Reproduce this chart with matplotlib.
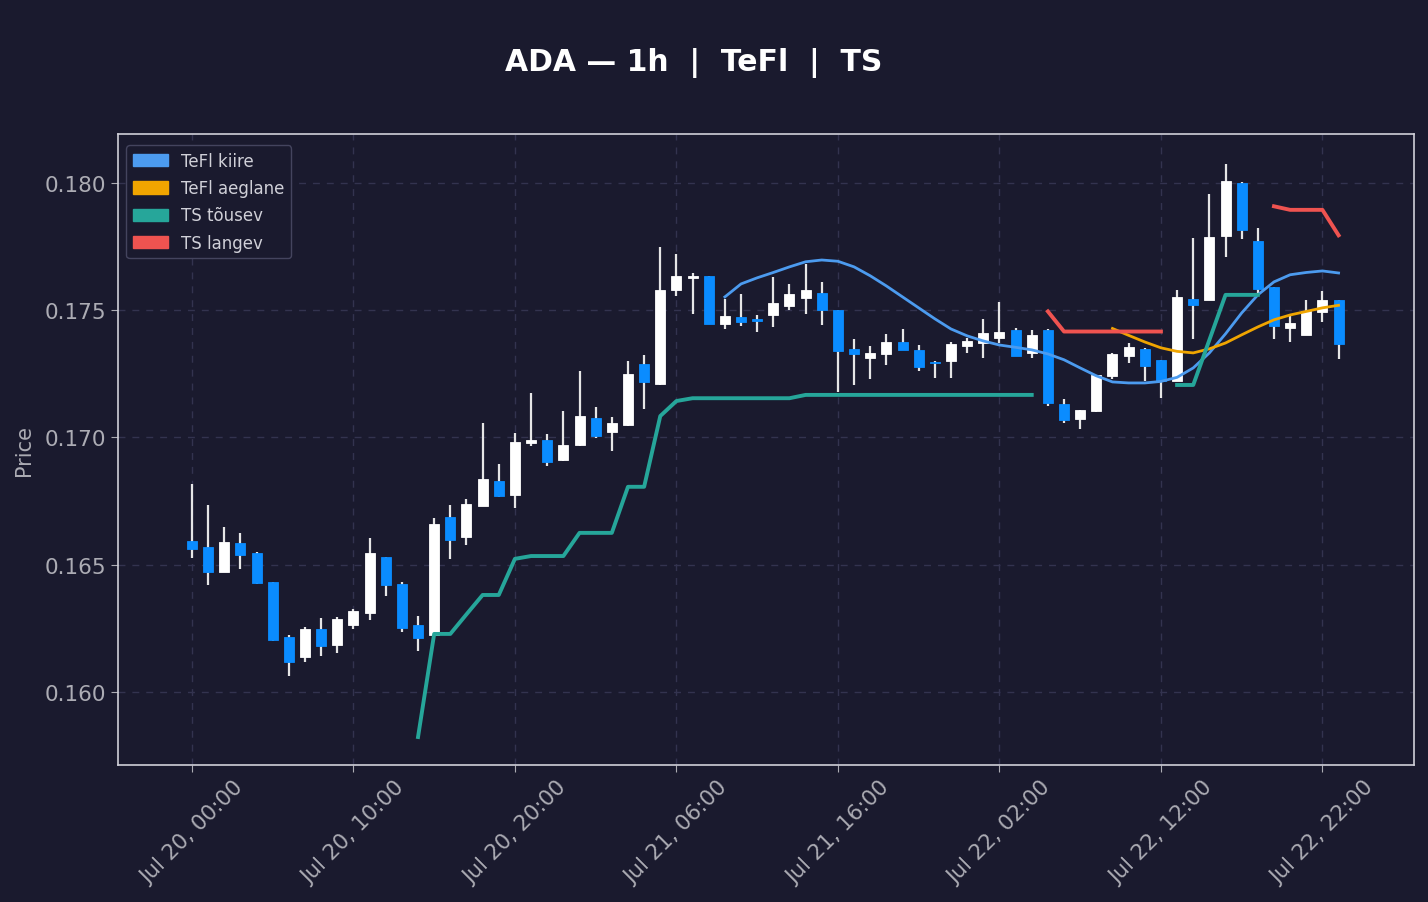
import numpy as np
import pandas as pd
import matplotlib
matplotlib.use("Agg")
import matplotlib.pyplot as plt
import matplotlib.dates as mdates
from matplotlib.patches import Patch

nan = np.nan

# hourly candles, Jul 20 00:00 -> Jul 22 23:00
times = pd.date_range("2025-07-20 00:00", periods=72, freq="h")

opens = [0.16593, 0.16569, 0.16473, 0.16585, 0.16546, 0.16432, 0.16215, 0.16139, 0.16246, 0.16183,
         0.16262, 0.16309, 0.16529, 0.16423, 0.16262, 0.16223, 0.16686, 0.16608, 0.16732, 0.16828,
         0.16775, 0.16977, 0.16989, 0.16910, 0.16972, 0.17075, 0.17020, 0.17048, 0.17288, 0.17209,
         0.17578, 0.17625, 0.17633, 0.17447, 0.17472, 0.17464, 0.17480, 0.17516, 0.17549, 0.17567,
         0.17500, 0.17347, 0.17311, 0.17327, 0.17375, 0.17344, 0.17298, 0.17299, 0.17361, 0.17369,
         0.17391, 0.17422, 0.17331, 0.17422, 0.17132, 0.17074, 0.17104, 0.17243, 0.17318, 0.17347,
         0.17305, 0.17223, 0.17543, 0.17539, 0.17791, 0.17999, 0.17771, 0.17590, 0.17431, 0.17404,
         0.17492, 0.17539]
highs = [0.16817, 0.16735, 0.16648, 0.16625, 0.16548, 0.16432, 0.16225, 0.16255, 0.16291, 0.16295,
         0.16326, 0.16605, 0.16532, 0.16432, 0.16299, 0.16684, 0.16734, 0.16758, 0.17057, 0.16896,
         0.17018, 0.17175, 0.17014, 0.17104, 0.17261, 0.17120, 0.17081, 0.17301, 0.17324, 0.17749,
         0.17721, 0.17646, 0.17635, 0.17544, 0.17564, 0.17480, 0.17631, 0.17603, 0.17682, 0.17611,
         0.17502, 0.17388, 0.17360, 0.17407, 0.17426, 0.17362, 0.17302, 0.17375, 0.17391, 0.17466,
         0.17532, 0.17430, 0.17422, 0.17424, 0.17151, 0.17107, 0.17244, 0.17332, 0.17371, 0.17352,
         0.17305, 0.17580, 0.17784, 0.17957, 0.18075, 0.18003, 0.17822, 0.17590, 0.17476, 0.17540,
         0.17576, 0.17539]
lows = [0.16527, 0.16422, 0.16470, 0.16484, 0.16425, 0.16202, 0.16064, 0.16119, 0.16143, 0.16154,
        0.16249, 0.16284, 0.16378, 0.16237, 0.16162, 0.16220, 0.16524, 0.16579, 0.16730, 0.16767,
        0.16724, 0.16968, 0.16889, 0.16908, 0.16968, 0.16997, 0.16948, 0.17046, 0.17113, 0.17207,
        0.17555, 0.17484, 0.17447, 0.17424, 0.17439, 0.17416, 0.17435, 0.17502, 0.17483, 0.17443,
        0.17180, 0.17207, 0.17231, 0.17286, 0.17345, 0.17259, 0.17234, 0.17234, 0.17332, 0.17312,
        0.17371, 0.17321, 0.17312, 0.17125, 0.17058, 0.17035, 0.17100, 0.17229, 0.17294, 0.17223,
        0.17156, 0.17223, 0.17387, 0.17539, 0.17710, 0.17781, 0.17561, 0.17387, 0.17376, 0.17404,
        0.17455, 0.17308]
closes = [0.16562, 0.16473, 0.16589, 0.16540, 0.16429, 0.16206, 0.16119, 0.16246, 0.16182, 0.16286,
          0.16317, 0.16545, 0.16419, 0.16253, 0.16211, 0.16659, 0.16598, 0.16737, 0.16836, 0.16771,
          0.16981, 0.16989, 0.16905, 0.16969, 0.17083, 0.17005, 0.17056, 0.17248, 0.17217, 0.17578,
          0.17633, 0.17633, 0.17447, 0.17476, 0.17453, 0.17456, 0.17527, 0.17563, 0.17578, 0.17500,
          0.17339, 0.17327, 0.17331, 0.17375, 0.17345, 0.17276, 0.17292, 0.17366, 0.17379, 0.17411,
          0.17415, 0.17321, 0.17403, 0.17134, 0.17070, 0.17107, 0.17244, 0.17327, 0.17356, 0.17282,
          0.17221, 0.17551, 0.17519, 0.17787, 0.18007, 0.17814, 0.17582, 0.17439, 0.17450, 0.17496,
          0.17539, 0.17366]

tefl_fast = [nan] * 33 + [
    0.17552, 0.17603, 0.17627, 0.17648, 0.17670, 0.17690, 0.17697, 0.17692, 0.17670, 0.17635,
    0.17595, 0.17552, 0.17509, 0.17466, 0.17426, 0.17399, 0.17379, 0.17363, 0.17354, 0.17344,
    0.17328, 0.17305, 0.17273, 0.17242, 0.17218, 0.17214, 0.17214, 0.17220, 0.17236, 0.17273,
    0.17332, 0.17407, 0.17489, 0.17560, 0.17611, 0.17639, 0.17648, 0.17654, 0.17646]
tefl_slow = [nan] * 57 + [
    0.17428, 0.17401, 0.17375, 0.17352, 0.17338, 0.17332, 0.17348, 0.17371, 0.17403, 0.17434,
    0.17462, 0.17481, 0.17495, 0.17509, 0.17519]
ts_up = [nan] * 14 + [
    0.15823, 0.16228, 0.16228, 0.16305, 0.16381, 0.16381, 0.16523, 0.16534, 0.16534, 0.16534,
    0.16625, 0.16625, 0.16625, 0.16806, 0.16806, 0.17084, 0.17143, 0.17154, 0.17154, 0.17154,
    0.17154, 0.17154, 0.17154, 0.17154, 0.17167, 0.17167, 0.17167, 0.17167, 0.17167, 0.17167,
    0.17167, 0.17167, 0.17167, 0.17167, 0.17167, 0.17167, 0.17167, 0.17167, 0.17167,
    nan, nan, nan, nan, nan, nan, nan, nan,
    0.17206, 0.17206, 0.17383, 0.17560, 0.17560, 0.17560,
    nan, nan, nan, nan, nan]
ts_down = [nan] * 53 + [
    0.17495, 0.17416, 0.17416, 0.17416, 0.17416, 0.17416, 0.17416, 0.17416,
    nan, nan, nan, nan, nan, nan,
    0.17908, 0.17894, 0.17894, 0.17894, 0.17794]

BG = "#1a1a2e"
UP = "#ffffff"
DOWN = "#0a8cff"
C_FAST = "#4c9bef"
C_SLOW = "#f0a500"
C_UP = "#26a69a"
C_DOWN = "#ef5350"
TXT = "#acacb4"

fig = plt.figure(figsize=(14.28, 9.03), dpi=100, facecolor=BG)
ax = fig.add_axes([0.0826, 0.1517, 0.9076, 0.6988], facecolor=BG)

x = mdates.date2num(times)
o = np.array(opens)
c = np.array(closes)
h = np.array(highs)
l = np.array(lows)
cols = [UP if cc >= oo else DOWN for oo, cc in zip(o, c)]
w = 0.62 / 24

ax.vlines(x, l, h, color="#e6e6e6", linewidth=1.6, zorder=2)
ax.bar(x, np.maximum(np.abs(c - o), 0.00003), bottom=np.minimum(o, c), width=w,
       color=cols, edgecolor=cols, linewidth=0.6, zorder=3)

ax.plot(x, tefl_fast, color=C_FAST, linewidth=2, zorder=4)
ax.plot(x, tefl_slow, color=C_SLOW, linewidth=2, zorder=4)
ax.plot(x, ts_up, color=C_UP, linewidth=2.8, zorder=4)
ax.plot(x, ts_down, color=C_DOWN, linewidth=2.8, zorder=4)

ax.set_xlim(x[0] - 4.58 / 24, x[0] + 75.67 / 24)
ax.set_ylim(0.15713, 0.18192)
ax.set_yticks([0.160, 0.165, 0.170, 0.175, 0.180])
ax.yaxis.set_major_formatter(plt.FormatStrFormatter("%.3f"))
ax.set_xticks(x[::10])
ax.xaxis.set_major_formatter(mdates.DateFormatter("%b %d, %H:%M"))
plt.setp(ax.get_xticklabels(), rotation=45, ha="center")

ax.grid(True, color="#33334f", linestyle=(0, (5, 5)), linewidth=1)
ax.set_axisbelow(True)
for s in ax.spines.values():
    s.set_color("#d0d0d8")
    s.set_linewidth(1.2)
ax.tick_params(colors=TXT, labelsize=15.5, length=5)
ax.set_ylabel("Price", color=TXT, fontsize=15)
ax.yaxis.set_label_coords(-0.065, 0.5)

fig.text(0.4857, 0.930, "ADA — 1h  |  TeFl  |  TS", color="white", fontsize=21.5,
         fontweight="bold", ha="center", va="center")

handles = [Patch(color=C_FAST, label="TeFl kiire"),
           Patch(color=C_SLOW, label="TeFl aeglane"),
           Patch(color=C_UP, label="TS tõusev"),
           Patch(color=C_DOWN, label="TS langev")]
leg = ax.legend(handles=handles, loc="upper left", fontsize=12, facecolor=BG,
                edgecolor="#44445e", labelcolor="#d0d0d8", framealpha=1, fancybox=True,
                labelspacing=0.55, handleheight=0.75, handlelength=2.1,
                bbox_to_anchor=(0.0, 0.995))

fig.savefig("out.png", dpi=100, facecolor=BG)
